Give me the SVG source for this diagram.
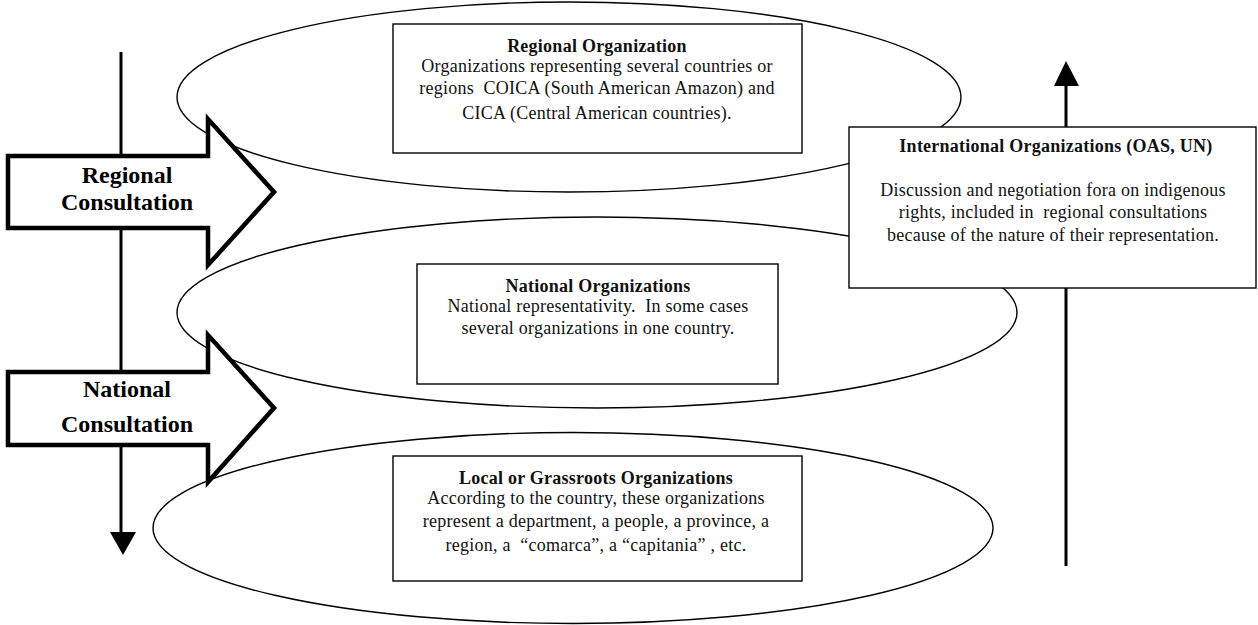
<svg xmlns="http://www.w3.org/2000/svg" width="1258" height="625" viewBox="0 0 1258 625">
<style>
.ell{fill:#fff;stroke:#000;stroke-width:1.4}
.box{fill:#fff;stroke:#000;stroke-width:1.4}
.blk{fill:#fff;stroke:#000;stroke-width:4.5;stroke-linejoin:miter}
.vl{stroke:#000;stroke-width:3;fill:none}
.t{font-family:"Liberation Serif","Times New Roman",serif;font-size:18px;letter-spacing:0.25px;fill:#111;text-anchor:middle;white-space:pre}
.b{font-weight:bold}
.big{font-family:"Liberation Serif","Times New Roman",serif;font-size:24px;font-weight:bold;fill:#000;text-anchor:middle}
</style>
<g id="layers">
<ellipse id="ellipse-regional" class="ell" cx="569" cy="97" rx="392" ry="95"/>
<ellipse id="ellipse-national" class="ell" cx="597" cy="312.5" rx="420" ry="95.5"/>
<ellipse id="ellipse-local" class="ell" cx="573" cy="528" rx="420" ry="95.5"/>
</g>
<g id="connectors">
<line class="vl" x1="121" y1="52" x2="121" y2="532"/>
<path d="M110,532 L136,532 L123,555 Z" fill="#000"/>
<line class="vl" x1="1066" y1="566" x2="1066" y2="86"/>
<path d="M1054,86 L1079,86 L1066,61 Z" fill="#000"/>
</g>
<g id="regional-consultation">
<path class="blk" d="M8,156 L208,156 L208,119 L274,192 L208,265 L208,228 L8,228 Z"/>
<text class="big" x="127" y="183">Regional</text>
<text class="big" x="127" y="210">Consultation</text>
</g>
<g id="national-consultation">
<path class="blk" d="M8,372 L208,372 L208,335 L274,408 L208,482 L208,445 L8,445 Z"/>
<text class="big" x="127" y="397">National</text>
<text class="big" x="127" y="432">Consultation</text>
</g>
<g id="regional-organization">
<rect class="box" x="393" y="24" width="409" height="129"/>
<text class="t b" x="597" y="52">Regional Organization</text>
<text class="t" x="597" y="72">Organizations representing several countries or</text>
<text class="t" x="597" y="94">regions  COICA (South American Amazon) and</text>
<text class="t" x="597" y="119">CICA (Central American countries).</text>
</g>
<g id="national-organizations">
<rect class="box" x="417" y="264" width="361" height="120"/>
<text class="t b" x="598" y="292">National Organizations</text>
<text class="t" x="598" y="312">National representativity.  In some cases</text>
<text class="t" x="598" y="334">several organizations in one country.</text>
</g>
<g id="local-organizations">
<rect class="box" x="393" y="456" width="409" height="125"/>
<text class="t b" x="596" y="484">Local or Grassroots Organizations</text>
<text class="t" x="596" y="504">According to the country, these organizations</text>
<text class="t" x="596" y="527">represent a department, a people, a province, a</text>
<text class="t" x="596" y="551">region, a  “comarca”, a “capitania” , etc.</text>
</g>
<g id="international-organizations">
<rect class="box" x="849" y="127" width="407" height="161"/>
<text class="t b" x="1056" y="152">International Organizations (OAS, UN)</text>
<text class="t" x="1053" y="196">Discussion and negotiation fora on indigenous</text>
<text class="t" x="1053" y="218">rights, included in  regional consultations</text>
<text class="t" x="1053" y="241">because of the nature of their representation.</text>
</g>
</svg>
